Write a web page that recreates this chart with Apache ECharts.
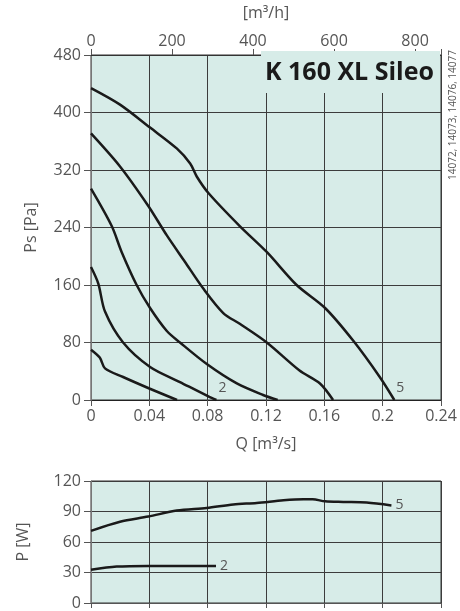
<!DOCTYPE html>
<html>
<head>
<meta charset="utf-8">
<script src="https://cdn.jsdelivr.net/npm/echarts@6/dist/echarts.min.js"></script>
<style>
  html, body { margin: 0; padding: 0; background: #fff; }
  #chart { width: 460px; height: 611px; }
</style>
</head>
<body>
<div id="chart"></div>
<script>
// pressure curves [Q m3/s, Ps Pa], lowest to highest
var curve1 = [[0, 70], [0.006, 59], [0.0096, 44], [0.022, 32], [0.04, 16], [0.059, 0]];
var curve2 = [[0, 185], [0.005, 162], [0.0096, 123], [0.022, 80], [0.0405, 46], [0.061, 25], [0.0805, 5], [0.086, 0]];
var curve3 = [[0, 294], [0.0142, 242], [0.021, 206], [0.0313, 160], [0.0405, 128], [0.052, 96], [0.061, 80], [0.0794, 50], [0.1, 23], [0.118, 7], [0.128, 0]];
var curve4 = [[0, 371], [0.0199, 325], [0.0393, 270], [0.052, 229], [0.0645, 192], [0.077, 155], [0.0907, 121], [0.102, 106], [0.1205, 80], [0.143, 41], [0.157, 23], [0.166, 0]];
var curve5 = [[0, 434], [0.0199, 411], [0.0405, 379], [0.0588, 350], [0.068, 329], [0.0725, 311], [0.0805, 288], [0.102, 242], [0.1205, 206], [0.141, 160], [0.1605, 128], [0.18, 82], [0.198, 32], [0.208, 0]];
// power curves [Q m3/s, P W]
var power2 = [[0, 32.6], [0.0176, 35.8], [0.039, 36.5], [0.064, 36.5], [0.0857, 36.5]];
var power5 = [[0, 71], [0.0199, 80], [0.0393, 85], [0.0588, 91], [0.0793, 93.5], [0.0976, 97], [0.1136, 98.4], [0.132, 101], [0.1457, 102], [0.152, 102], [0.1605, 100], [0.173, 99.4], [0.189, 98.8], [0.206, 96]];

var curveLabels = ["", "2", "", "", "5"];
var titleText = "K 160 XL Sileo";
var sideText = "14072, 14073, 14076, 14077";

var bg = "#d7ece8";
var txt = "#555";
var font = "Open Sans";
var gridLine = { show: true, lineStyle: { color: "#3c3c3c", width: 1 } };

function pressureSeries(data, i) {
  var s = {
    type: "line", xAxisIndex: 0, yAxisIndex: 0, data: data,
    smooth: 0.3, symbol: "none",
    lineStyle: { color: "#1a1a1a", width: 2.5 }
  };
  if (curveLabels[i]) {
    s.endLabel = {
      show: true, formatter: curveLabels[i],
      color: txt, fontFamily: font, fontSize: 14, distance: 2, offset: [0, -12]
    };
  }
  return s;
}
function powerSeries(data, label) {
  return {
    type: "line", xAxisIndex: 2, yAxisIndex: 1, data: data,
    smooth: 0.3, symbol: "none",
    lineStyle: { color: "#1a1a1a", width: 2.5 },
    endLabel: { show: true, formatter: label, color: txt, fontFamily: font, fontSize: 14, distance: 4 }
  };
}

var chart = echarts.init(document.getElementById("chart"), null, { renderer: "canvas" });
var option = {
  animation: false,
  textStyle: { fontFamily: font },
  grid: [
    { left: 91, top: 50, width: 350, height: 350, show: true, backgroundColor: bg, borderColor: "#333", borderWidth: 1 },
    { left: 91, top: 481, width: 350, height: 122, show: true, backgroundColor: bg, borderColor: "#333", borderWidth: 1 }
  ],
  graphic: [
    {
      type: "rect", z: 50, shape: { x: 261, y: 51, width: 179, height: 42 },
      style: { fill: bg }
    },
    {
      type: "text", z: 51, x: 434, y: 73,
      style: { text: titleText, fill: "#1a1a1a", font: "bold 25px " + font, textAlign: "right", textVerticalAlign: "middle" }
    },
    {
      type: "text", x: 453, y: 115, rotation: Math.PI / 2,
      style: { text: sideText, fill: txt, font: "10px " + font, textAlign: "center", textVerticalAlign: "middle" }
    }
  ],
  xAxis: [
    {
      gridIndex: 0, type: "value", position: "bottom", min: 0, max: 0.24, interval: 0.04,
      name: "Q [m³/s]", nameLocation: "middle", nameGap: 36,
      nameTextStyle: { color: txt, fontSize: 16, fontFamily: font },
      axisLine: { show: true, onZero: false, lineStyle: { color: "#222" } },
      axisTick: { show: true, length: 6, lineStyle: { color: "#555" } },
      axisLabel: { color: txt, fontSize: 16, margin: 8 },
      splitLine: gridLine
    },
    {
      gridIndex: 0, type: "value", position: "top", min: 0, max: 864, interval: 200,
      name: "[m³/h]", nameLocation: "middle", nameGap: 34,
      nameTextStyle: { color: txt, fontSize: 16, fontFamily: font },
      axisLine: { show: true, onZero: false, lineStyle: { color: "#333" } },
      axisTick: { show: true, length: 6, lineStyle: { color: "#555" } },
      axisLabel: { color: txt, fontSize: 16, margin: 6, formatter: function (v) { return v % 200 === 0 ? v : ""; } },
      splitLine: { show: false }
    },
    {
      gridIndex: 1, type: "value", position: "bottom", min: 0, max: 0.24, interval: 0.04,
      axisLine: { show: true, onZero: false, lineStyle: { color: "#555" } },
      axisTick: { show: true, length: 5, lineStyle: { color: "#555" } },
      axisLabel: { show: false },
      splitLine: gridLine
    }
  ],
  yAxis: [
    {
      gridIndex: 0, type: "value", min: 0, max: 480, interval: 80,
      name: "Ps [Pa]", nameLocation: "middle", nameGap: 52,
      nameTextStyle: { color: txt, fontSize: 16, fontFamily: font },
      axisLine: { show: true, lineStyle: { color: "#777" } },
      axisTick: { show: true, length: 7, lineStyle: { color: "#555" } },
      axisLabel: { color: txt, fontSize: 16, margin: 10 },
      splitLine: gridLine
    },
    {
      gridIndex: 1, type: "value", min: 0, max: 120, interval: 30,
      name: "P [W]", nameLocation: "middle", nameGap: 60,
      nameTextStyle: { color: txt, fontSize: 16, fontFamily: font },
      axisLine: { show: true, lineStyle: { color: "#777" } },
      axisTick: { show: true, length: 7, lineStyle: { color: "#555" } },
      axisLabel: { color: txt, fontSize: 16, margin: 10 },
      splitLine: gridLine
    }
  ],
  series: [
    pressureSeries(curve1, 0),
    pressureSeries(curve2, 1),
    pressureSeries(curve3, 2),
    pressureSeries(curve4, 3),
    pressureSeries(curve5, 4),
    powerSeries(power2, "2"),
    powerSeries(power5, "5")
  ]
};
chart.setOption(option);
</script>
</body>
</html>
